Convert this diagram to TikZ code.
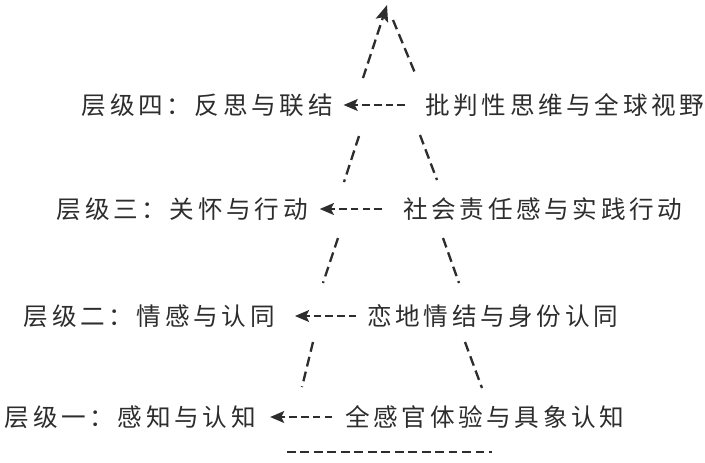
\documentclass[tikz,border=0pt]{standalone}
\usepackage{fontspec}
\setmainfont{Noto Sans CJK SC}[LetterSpace=15]
\usepackage{tikz}
\usetikzlibrary{positioning, arrows.meta}
\usepackage{xcolor}
\definecolor{ink}{RGB}{45, 45, 45}

\begin{document}
\begin{tikzpicture}[x=0.03cm, y=-0.03cm,
    every node/.style={font=\fontsize{21}{25}\selectfont, inner sep=0pt, text=ink},
    levelarrow/.style={draw=ink, line width=2.3pt, dash pattern=on 6.5pt off 3.5pt,
                       -{Stealth[length=12pt, width=10pt, inset=2.5pt]}},
    side/.style={draw=ink, line width=2pt, dash pattern=on 8.5pt off 4.5pt}]
      \useasboundingbox (0,0) rectangle (705,462);
      % levels, left column
      \node[anchor=east] (l4) at (333,105) {层级四：反思与联结};
      \node[anchor=east] (l3) at (308,209) {层级三：关怀与行动};
      \node[anchor=east] (l2) at (275,316) {层级二：情感与认同};
      \node[anchor=east] (l1) at (256,417) {层级一：感知与认知};
      % right column
      \node[anchor=west] (r4) at (425,105) {批判性思维与全球视野};
      \node[anchor=west] (r3) at (403,209) {社会责任感与实践行动};
      \node[anchor=west] (r2) at (367,316) {恋地情结与身份认同};
      \node[anchor=west] (r1) at (345,417) {全感官体验与具象认知};
      \draw[levelarrow, shorten <=17pt, shorten >=9pt] (r4.west) -- (l4.east);
      \draw[levelarrow, shorten <=18pt, shorten >=10pt] (r3.west) -- (l3.east);
      \draw[levelarrow, shorten <=9pt, shorten >=17pt] (r2.west) -- (l2.east);
      \draw[levelarrow, shorten <=11pt, shorten >=12pt] (r1.west) -- (l1.east);
      % sides of the pyramid
      \coordinate (apex) at (387,5);
      \coordinate (a4) at (363,78);
      \coordinate (a3) at (359,136);  \coordinate (b3) at (344,182);
      \coordinate (a2) at (338,238);  \coordinate (b2) at (323,283);
      \coordinate (a1) at (313,342);  \coordinate (b1) at (302,387);
      \coordinate (c4) at (393,20);   \coordinate (d4) at (415,73);
      \coordinate (c3) at (420,135);  \coordinate (d3) at (437,180);
      \coordinate (c2) at (443,238);  \coordinate (d2) at (459,283);
      \coordinate (c1) at (465,342);  \coordinate (d1) at (482,388);
      \coordinate (base0) at (287,452); \coordinate (base1) at (492,452);
      \draw[side, -{Stealth[length=14pt, width=11pt, inset=3pt]}] (a4) -- (apex);
      \draw[side] (a3) -- (b3);
      \draw[side] (a2) -- (b2);
      \draw[side] (a1) -- (b1);
      \draw[side] (c4) -- (d4);
      \draw[side] (c3) -- (d3);
      \draw[side] (c2) -- (d2);
      \draw[side] (c1) -- (d1);
      \draw[side, dash pattern=on 7.5pt off 4pt] (base0) -- (base1);
    \end{tikzpicture}
\end{document}
